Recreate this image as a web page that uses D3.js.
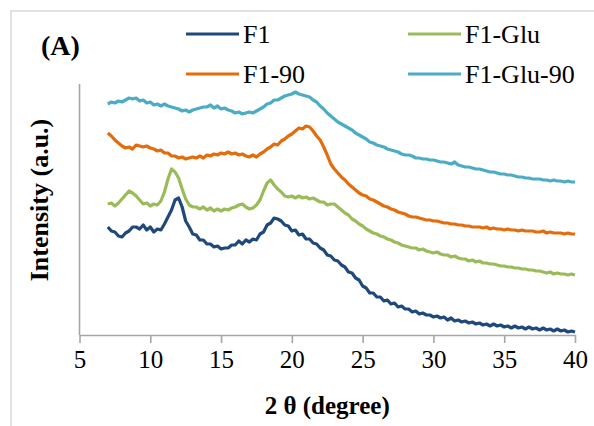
<!DOCTYPE html>
<head>
    <meta charset="utf-8">
    <title>XRD (A)</title>
    <style>
        body{ margin: 0; background: #fff; }
        svg text{ font-family: "Liberation Serif", "Tinos", "Times New Roman", "DejaVu Serif", serif; }
    </style>
    <script src="https://d3js.org/d3.v7.min.js"></script>
</head>
<body>
    <svg width="594" height="426"></svg>

    <script>
        // 2 theta grid, every 0.25 degree from 7 to 40
        const twoTheta = d3.range(7, 40.001, 0.25);

        // intensities (a.u.)
        const f1 = [
            108, 104, 103, 99, 98, 102, 104, 108,
            108, 106, 110, 105, 108, 103, 106, 105,
            111, 118, 125, 135, 137, 128, 114, 108,
            101, 100, 95, 95, 91, 91, 88, 89,
            86, 87, 87, 90, 90, 94, 91, 95,
            93, 96, 95, 101, 103, 110, 112, 117,
            116, 114, 110, 109, 104, 105, 100, 101,
            96, 96, 92, 91, 87, 85, 80, 79,
            75, 74, 70, 68, 63, 62, 57, 55,
            49, 47, 42, 42, 38, 38, 34, 35,
            31, 32, 28, 29, 26, 26, 23, 24,
            21, 22, 20, 20, 18, 19, 17, 18,
            15, 17, 14, 15, 13, 14, 12, 13,
            11, 12, 10, 11, 9, 11, 9, 10,
            8, 9, 7, 9, 7, 8, 6, 8,
            6, 7, 5, 7, 5, 6, 4, 6,
            4, 5, 3, 4, 3
        ];
        const f1Glu = [
            131, 132, 129, 132, 136, 140, 144, 142,
            139, 135, 131, 132, 129, 131, 130, 134,
            143, 156, 166, 163, 157, 146, 136, 130,
            128, 128, 126, 128, 125, 127, 124, 126,
            124, 126, 125, 127, 128, 130, 131, 128,
            126, 127, 130, 135, 144, 152, 155, 150,
            146, 143, 139, 138, 139, 137, 139, 137,
            138, 136, 137, 135, 133, 133, 130, 131,
            131, 128, 125, 122, 120, 116, 114, 111,
            109, 106, 104, 102, 101, 99, 98, 96,
            95, 93, 92, 90, 89, 88, 87, 87,
            85, 86, 84, 83, 82, 83, 81, 80,
            80, 78, 79, 77, 76, 76, 74, 75,
            73, 74, 72, 72, 71, 71, 70, 69,
            69, 68, 68, 67, 67, 66, 66, 65,
            65, 64, 64, 63, 62, 63, 61, 62,
            61, 61, 60, 61, 60
        ];
        const f190 = [
            202, 199, 195, 192, 189, 187, 188, 186,
            190, 189, 188, 189, 187, 186, 184, 185,
            182, 182, 179, 179, 177, 178, 176, 177,
            178, 177, 179, 177, 180, 179, 181, 180,
            182, 181, 183, 181, 182, 180, 181, 179,
            178, 180, 178, 181, 183, 186, 188, 191,
            190, 194, 196, 199, 201, 204, 207, 206,
            209, 208, 204, 199, 195, 188, 180, 171,
            166, 162, 158, 155, 151, 148, 145, 142,
            140, 139, 136, 135, 133, 131, 129, 128,
            126, 125, 123, 122, 121, 119, 118, 118,
            117, 116, 115, 115, 114, 114, 113, 112,
            112, 111, 111, 110, 110, 109, 109, 108,
            108, 108, 107, 108, 106, 107, 106, 106,
            105, 106, 105, 105, 104, 105, 104, 104,
            104, 103, 103, 104, 102, 103, 102, 102,
            102, 101, 102, 101, 101
        ];
        const f1Glu90 = [
            231, 233, 232, 234, 233, 235, 237, 236,
            237, 234, 235, 232, 233, 230, 231, 229,
            231, 229, 228, 227, 226, 224, 225, 223,
            225, 226, 227, 228, 228, 230, 227, 229,
            226, 227, 225, 224, 222, 223, 221, 222,
            223, 222, 224, 226, 228, 231, 232, 235,
            235, 237, 239, 240, 241, 243, 241, 240,
            239, 238, 235, 233, 229, 226, 222, 219,
            216, 213, 211, 209, 207, 205, 202, 200,
            198, 196, 193, 192, 190, 189, 188, 186,
            185, 184, 183, 181, 180, 180, 179, 177,
            177, 176, 176, 175, 175, 174, 173, 173,
            172, 171, 173, 170, 169, 168, 168, 167,
            166, 166, 165, 164, 163, 163, 162, 161,
            161, 160, 160, 159, 158, 158, 157, 157,
            156, 156, 156, 155, 155, 154, 155, 154,
            154, 153, 154, 153, 153
        ];

        const seriesNames = ["F1", "F1-Glu", "F1-90", "F1-Glu-90"];
        const seriesValues = [f1, f1Glu, f190, f1Glu90];
        const seriesColors = ["#1f497d", "#9bbb59", "#e46c0a", "#4bacc6"];
        const xTicks = [5, 10, 15, 20, 25, 30, 35, 40];

        const serif = "'Liberation Serif', 'Tinos', 'Times New Roman', 'DejaVu Serif', serif";
        var svg = d3.select("svg");

        // outer chart frame (runs off the picture at right and bottom)
        svg.append("rect")
            .attr("x", 11).attr("y", 11)
            .attr("width", 620).attr("height", 440)
            .attr("fill", "none")
            .attr("stroke", "#d9d9d9")
            .attr("stroke-width", 1.5);

        const x = d3.scaleLinear().domain([5, 40]).range([79.5, 575]);
        const y = d3.scaleLinear().domain([0, 251]).range([335, 84]);

        // axes
        const xAxis = svg.append("g")
            .attr("transform", "translate(0,335)")
            .call(d3.axisBottom(x).tickValues(xTicks).tickSize(8).tickPadding(7).tickSizeOuter(0));
        xAxis.attr("font-family", null);
        xAxis.select(".domain").attr("stroke", "#a6a6a6").attr("stroke-width", 1.6);
        xAxis.selectAll(".tick line").attr("stroke", "#a6a6a6").attr("stroke-width", 1.6);
        xAxis.selectAll(".tick text")
            .attr("fill", "#000")
            .style("font-family", serif)
            .style("font-size", "25px");

        svg.append("line")
            .attr("x1", x(5)).attr("x2", x(5))
            .attr("y1", y(251)).attr("y2", y(0))
            .attr("stroke", "#a6a6a6")
            .attr("stroke-width", 1.6);

        // series
        const line = d3.line()
            .x((d, i) => x(twoTheta[i]))
            .y(d => y(d));

        seriesValues.forEach(function(vals, k){
            svg.append("path")
                .datum(vals)
                .attr("fill", "none")
                .attr("stroke", seriesColors[k])
                .attr("stroke-width", 3.2)
                .attr("stroke-linejoin", "round")
                .attr("d", line);
        });

        // legend, 2 x 2
        const legendPos = [[186, 34], [408, 34], [186, 74], [408, 74]];
        seriesNames.forEach(function(name, k){
            const p = legendPos[k];
            svg.append("line")
                .attr("x1", p[0]).attr("x2", p[0] + 53)
                .attr("y1", p[1]).attr("y2", p[1])
                .attr("stroke", seriesColors[k])
                .attr("stroke-width", 3);
            svg.append("text")
                .attr("x", p[0] + 57)
                .attr("y", p[1] + 9)
                .style("font-family", serif)
                .style("font-size", "26px")
                .text(name);
        });

        // labels
        svg.append("text")
            .attr("x", 41).attr("y", 55)
            .style("font-family", serif)
            .style("font-size", "28px")
            .style("font-weight", "bold")
            .text("(A)");

        svg.append("text")
            .attr("x", (x(5) + x(40)) / 2).attr("y", 414)
            .attr("text-anchor", "middle")
            .style("font-family", serif)
            .style("font-size", "25px")
            .style("font-weight", "bold")
            .text("2 θ (degree)");

        svg.append("text")
            .attr("transform", "translate(48,200) rotate(-90)")
            .attr("text-anchor", "middle")
            .style("font-family", serif)
            .style("font-size", "26px")
            .style("font-weight", "bold")
            .text("Intensity (a.u.)");
    </script>
</body>
</html>
